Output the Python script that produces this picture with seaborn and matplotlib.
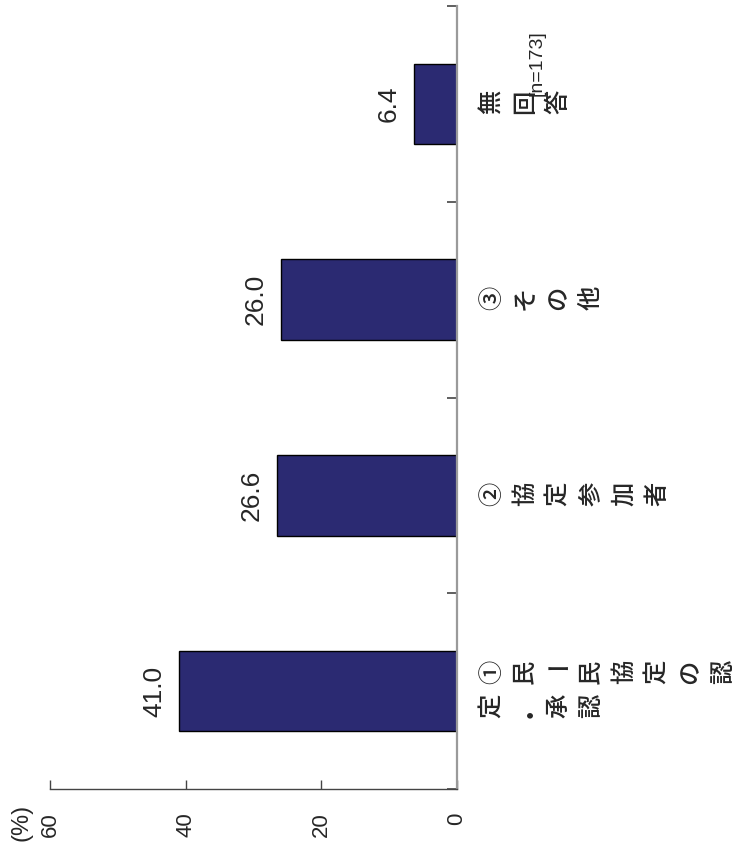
import matplotlib
matplotlib.use("Agg")
import matplotlib.pyplot as plt
import seaborn as sns
import pandas as pd

# ---- data ----
categories = ["①民ー民協定の認定・承認", "②協定参加者", "③その他", "無回答"]
values = [41.0, 26.6, 26.0, 6.4]
value_ticks = [0, 20, 40, 60]
unit_label = "(%)"
n_label = "[n=173]"

sns.set_style("white")
plt.rcParams["font.family"] = ["Noto Sans CJK JP", "DejaVu Sans"]

W, H = 745, 852
fig = plt.figure(figsize=(W / 100, H / 100), dpi=100)
ax = fig.add_axes([50 / W, 63 / H, 407 / W, 783 / H])

df = pd.DataFrame({"category": categories, "value": values})
order = categories[::-1]  # top to bottom in the rotated view
sns.barplot(data=df, y="category", x="value", order=order, orient="h",
            color="#2B2A72", saturation=1, edgecolor="black", linewidth=1.0,
            width=0.41, ax=ax)

ax.set_xlim(60, 0)
ax.set_ylim(len(order) - 0.5, -0.5)
ax.set_xlabel("")
ax.set_ylabel("")

# spines
for s in ["top", "left"]:
    ax.spines[s].set_visible(False)
ax.spines["right"].set_color("#9a9a9a")
ax.spines["right"].set_linewidth(1.6)
ax.spines["bottom"].set_color("#444444")
ax.spines["bottom"].set_linewidth(1.0)

# category axis ticks (boundaries), on the right, pointing inward
ax.yaxis.tick_right()
ax.set_yticks([i - 0.5 for i in range(len(order) + 1)])
ax.set_yticklabels([])
ax.tick_params(axis="y", direction="in", length=7, width=1.2, color="#444444", right=True, left=False)

# value axis ticks
ax.set_xticks(value_ticks)
ax.set_xticklabels([str(t) for t in value_ticks], rotation=90,
                   fontfamily="Liberation Sans", fontsize=16)
ax.tick_params(axis="x", direction="in", length=6.5, width=1.0, color="#444444", pad=17, bottom=True)

# value labels
for i, cat in enumerate(order):
    v = values[categories.index(cat)]
    ax.annotate(f"{v:.1f}", xy=(v, i), xycoords="data", xytext=(-25, 0),
                textcoords="offset pixels", rotation=90, ha="center", va="center",
                fontsize=19, fontfamily="Liberation Sans", annotation_clip=False)

# category labels: vertical (tategaki) text, rotated with the chart
per_line = 8
for i, cat in enumerate(order):
    lines = [cat[k:k + per_line] for k in range(0, len(cat), per_line)]
    nrows = len(lines)
    for r, line in enumerate(lines):
        dy = 2 + (nrows - 1) / 2 * 34 - r * 34
        for k, ch in enumerate(line):
            rot = 0 if ch == "ー" else 90
            ax.annotate(ch, xy=(0, i), xycoords="data",
                        xytext=(35 + k * 33, dy), textcoords="offset pixels",
                        rotation=rot, ha="center", va="center", fontsize=17.5,
                        fontweight="medium",
                        family=["Noto Sans CJK JP", "DejaVu Sans"],
                        annotation_clip=False)

fig.text(22 / W, 1 - 822 / H, unit_label, rotation=90, ha="center", va="center",
         fontsize=17, fontfamily="Liberation Sans")
fig.text(537 / W, 1 - 63 / H, n_label, rotation=90, ha="center", va="center",
         fontsize=14, fontfamily="Liberation Sans")

fig.savefig("out.png", dpi=100, facecolor="white")
